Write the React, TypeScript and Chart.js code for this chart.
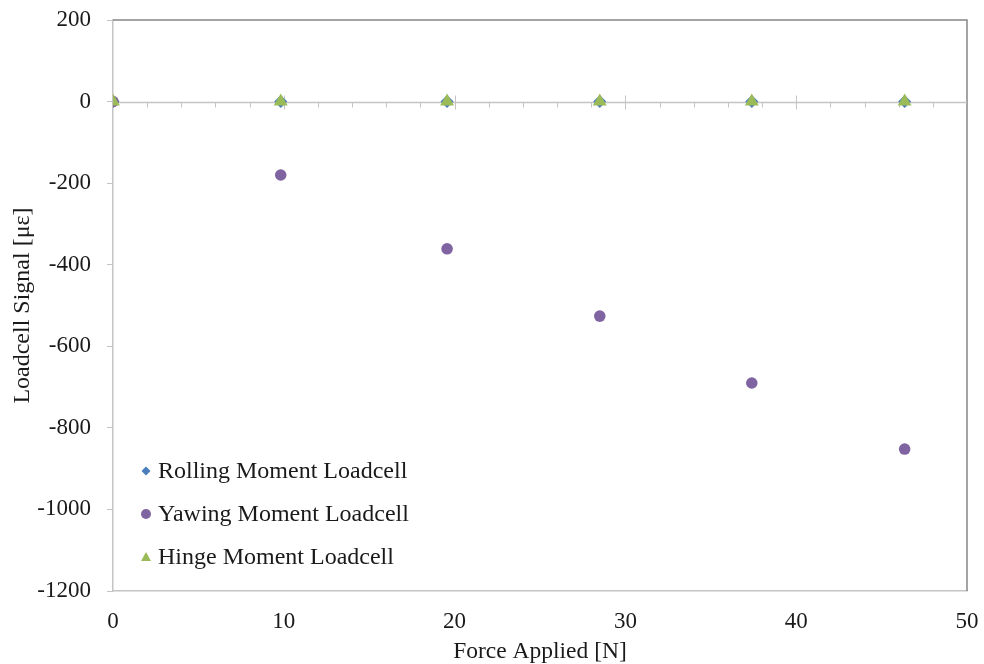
import React, { useEffect, useRef } from 'react';
import { Chart, registerables } from 'chart.js';

Chart.register(...registerables);

// Applied force at each load step [N]
const forceApplied = [0, 9.82, 19.56, 28.5, 37.4, 46.35];
// Loadcell signals [με]
const rollingMoment = [0, 0, 0, 0, 0, 0];
const yawingMoment = [0, -180, -361, -526, -690, -852];
const hingeMoment = [0, 0, 0, 0, 0, 0];

const seriesNames = ['Rolling Moment Loadcell', 'Yawing Moment Loadcell', 'Hinge Moment Loadcell'];
const seriesColors = ['#4a7ebb', '#8064a2', '#9bbb59'];
const seriesShapes = ['rectRot', 'circle', 'triangle'];

const xMin = 0;
const xMax = 50;
const xStep = 10;
const xMinorStep = 2;
const yMin = -1200;
const yMax = 200;
const yStep = 200;

const FONT = "'Liberation Serif', 'Times New Roman', serif";
const AXIS_LIGHT = '#c4c4c4';
const FRAME_DARK = '#868686';
const TEXT = '#1a1a1a';

// Keep the plot box fixed: no extra room for overhanging tick labels
const noScalePadding = (s: any) => {
  s.paddingTop = 0;
  s.paddingBottom = 0;
  s.paddingLeft = 0;
  s.paddingRight = 0;
};

// Zero line with Excel-style cross ticks, plus the top/right frame and the in-plot legend
const decorations = {
  id: 'decorations',
  beforeDatasetsDraw(chart: any) {
    const { ctx, chartArea, scales } = chart;
    const x = scales.x;
    const y = scales.y;
    ctx.save();
    // frame top and right
    ctx.strokeStyle = FRAME_DARK;
    ctx.lineWidth = 1.5;
    ctx.beginPath();
    ctx.moveTo(chartArea.left, chartArea.top);
    ctx.lineTo(chartArea.right, chartArea.top);
    ctx.lineTo(chartArea.right, chartArea.bottom);
    ctx.stroke();

    // horizontal axis through zero
    const y0 = Math.round(y.getPixelForValue(0)) + 0.5;
    ctx.strokeStyle = AXIS_LIGHT;
    ctx.lineWidth = 1.5;
    ctx.beginPath();
    ctx.moveTo(chartArea.left, y0);
    ctx.lineTo(chartArea.right, y0);
    ctx.stroke();

    ctx.lineWidth = 1;
    for (let v = xMin + xMinorStep; v < xMax; v += xMinorStep) {
      const px = Math.round(x.getPixelForValue(v)) + 0.5;
      const major = v % xStep === 0;
      ctx.beginPath();
      ctx.moveTo(px, major ? y0 - 7 : y0);
      ctx.lineTo(px, major ? y0 + 7 : y0 + 5);
      ctx.stroke();
    }
    ctx.restore();
  },
  afterDatasetsDraw(chart: any) {
    const { ctx, chartArea } = chart;
    ctx.save();
    const mx = chartArea.left + 33;
    const tx = chartArea.left + 45;
    const rowTop = chartArea.top + 451;
    const rowGap = 43;
    ctx.font = `24px ${FONT}`;
    ctx.textBaseline = 'middle';
    ctx.textAlign = 'left';
    seriesNames.forEach((name, i) => {
      const cy = rowTop + i * rowGap;
      ctx.fillStyle = seriesColors[i];
      ctx.beginPath();
      if (seriesShapes[i] === 'rectRot') {
        ctx.moveTo(mx, cy - 4.5);
        ctx.lineTo(mx + 4.5, cy);
        ctx.lineTo(mx, cy + 4.5);
        ctx.lineTo(mx - 4.5, cy);
        ctx.closePath();
      } else if (seriesShapes[i] === 'circle') {
        ctx.arc(mx, cy, 5, 0, Math.PI * 2);
      } else {
        ctx.moveTo(mx, cy - 5);
        ctx.lineTo(mx + 5, cy + 4);
        ctx.lineTo(mx - 5, cy + 4);
        ctx.closePath();
      }
      ctx.fill();
      ctx.fillStyle = TEXT;
      ctx.fillText(name, tx, cy + 1);
    });
    ctx.restore();
  },
};

export default function App() {
  const canvasRef = useRef<HTMLCanvasElement | null>(null);

  useEffect(() => {
    if (!canvasRef.current) return;
    const toPoints = (ys: number[]) => forceApplied.map((f, i) => ({ x: f, y: ys[i] }));
    const chart = new Chart(canvasRef.current, {
      type: 'scatter',
      data: {
        datasets: [
          {
            label: seriesNames[0],
            data: toPoints(rollingMoment),
            pointStyle: 'rectRot',
            pointRadius: 6.5,
            backgroundColor: seriesColors[0],
            borderColor: seriesColors[0],
            borderWidth: 0,
            order: 2,
          },
          {
            label: seriesNames[1],
            data: toPoints(yawingMoment),
            pointStyle: 'circle',
            pointRadius: 5.8,
            backgroundColor: seriesColors[1],
            borderColor: seriesColors[1],
            borderWidth: 0,
            order: 1,
          },
          {
            label: seriesNames[2],
            data: toPoints(hingeMoment),
            pointStyle: 'triangle',
            pointRadius: 8,
            backgroundColor: seriesColors[2],
            borderColor: seriesColors[2],
            borderWidth: 0,
            order: 0,
          },
        ],
      },
      options: {
        animation: false,
        responsive: true,
        maintainAspectRatio: false,
        layout: { padding: { top: 20, right: 17, left: 0, bottom: 0 } },
        plugins: {
          legend: { display: false },
          tooltip: { enabled: false },
        },
        scales: {
          x: {
            type: 'linear',
            min: xMin,
            max: xMax,
            afterFit: (s: any) => {
              s.height = 73;
              noScalePadding(s);
            },
            ticks: {
              stepSize: xStep,
              padding: 17,
              color: TEXT,
              font: { family: FONT, size: 23 },
              maxRotation: 0,
              callback: (v: any) => String(v),
            },
            grid: { display: false, drawTicks: false },
            border: { display: true, color: AXIS_LIGHT, width: 1.5 },
            title: {
              display: true,
              text: 'Force Applied [N]',
              color: TEXT,
              font: { family: FONT, size: 23.5, lineHeight: 1 },
              padding: { top: 0, bottom: 0 },
            },
          },
          y: {
            type: 'linear',
            min: yMin,
            max: yMax,
            afterFit: (s: any) => {
              s.width = 113;
              noScalePadding(s);
            },
            ticks: {
              stepSize: yStep,
              padding: 16,
              color: TEXT,
              font: { family: FONT, size: 23 },
              callback: (v: any) => String(v),
            },
            grid: {
              display: true,
              drawOnChartArea: false,
              drawTicks: true,
              tickLength: 6,
              color: AXIS_LIGHT,
            },
            border: { display: true, color: AXIS_LIGHT, width: 1.5 },
            title: {
              display: true,
              text: 'Loadcell Signal [με]',
              color: TEXT,
              font: { family: FONT, size: 24 },
              padding: { top: 8, bottom: 0 },
            },
          },
        },
      },
      plugins: [decorations],
    });
    return () => chart.destroy();
  }, []);

  return (
    <div style={{ position: 'fixed', left: 0, top: 0, width: 984, height: 664, background: '#fff' }}>
      <canvas ref={canvasRef} />
    </div>
  );
}
